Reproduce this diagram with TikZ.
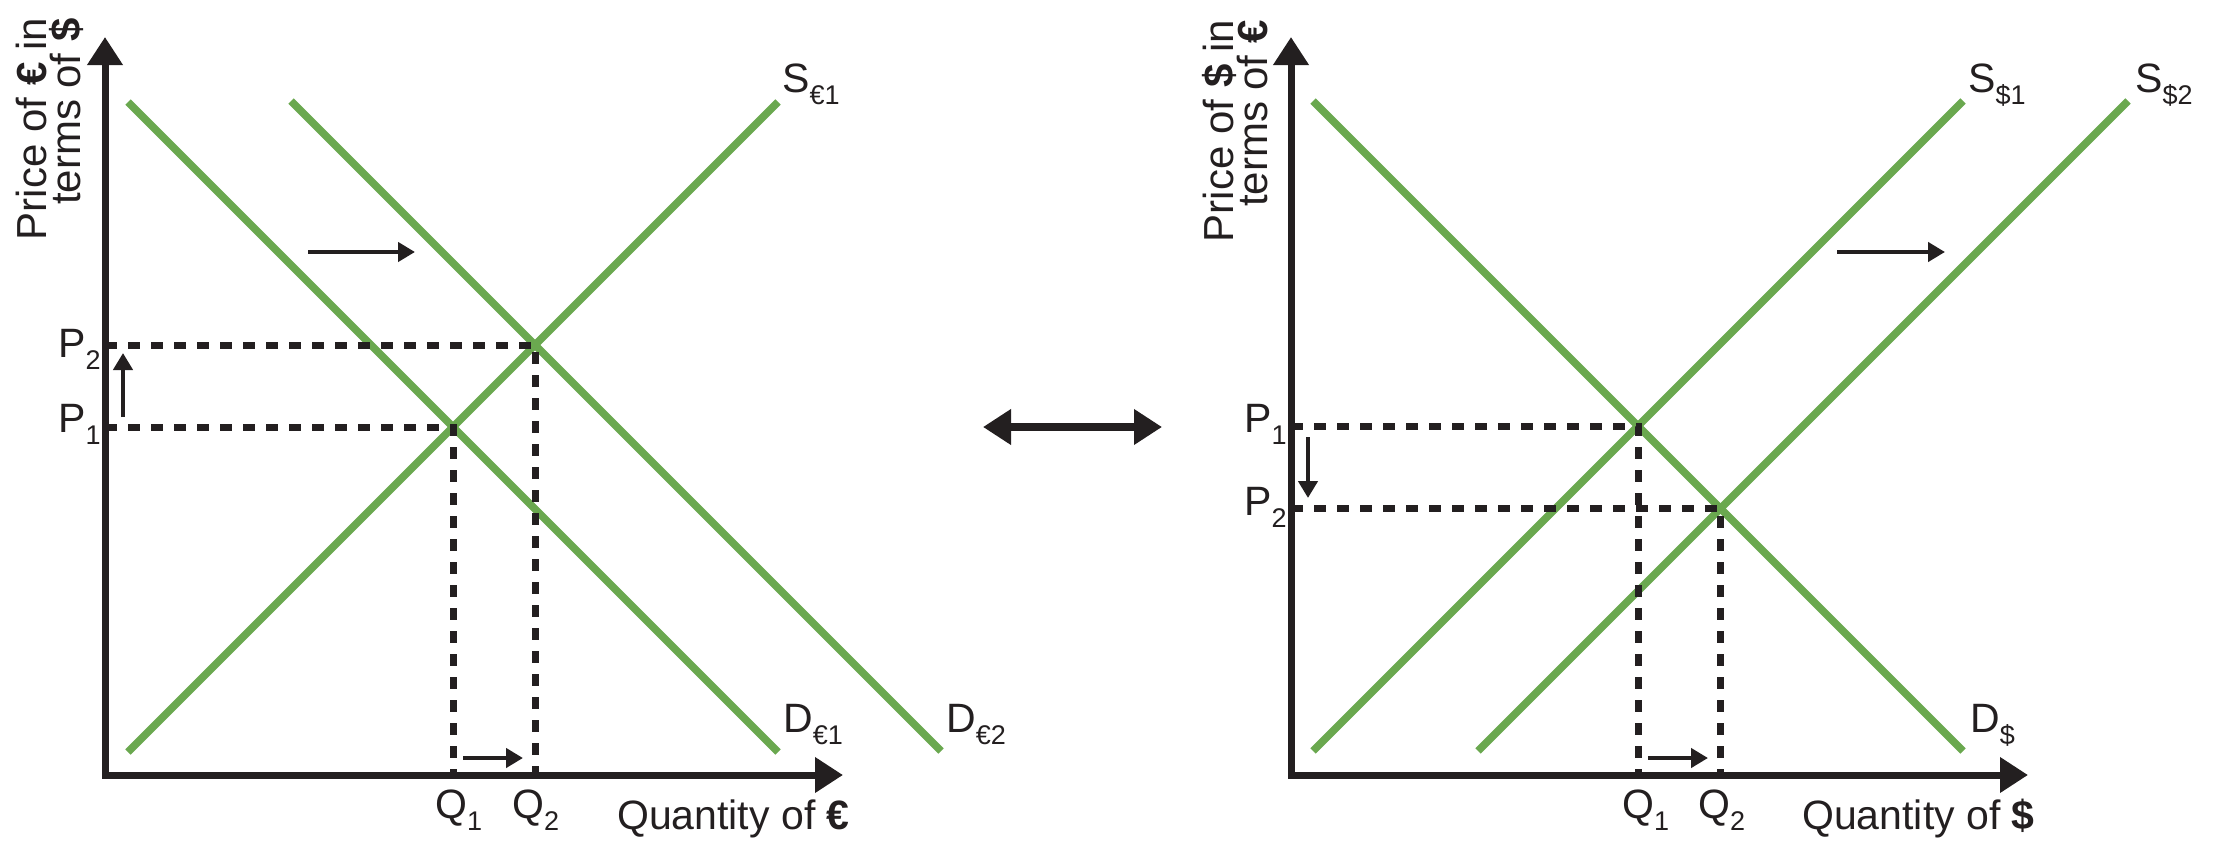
\documentclass[tikz,border=0pt]{standalone}
\usepackage{fontspec}
\setmainfont{Liberation Sans}
\usetikzlibrary{arrows.meta}
\definecolor{fxGreen}{HTML}{6AA84F}
\definecolor{fxInk}{HTML}{231F20}
\newcommand{\lowsub}[1]{\raisebox{-12pt}{\fontsize{27}{27}\selectfont #1}}

\begin{document}
\begin{tikzpicture}[x=1pt,y=-1pt,line join=miter,font=\fontsize{41}{34}\selectfont,text=fxInk]
\useasboundingbox (0,0) rectangle (2220,862);
\tikzset{axis/.style={draw=fxInk,line width=7pt,{Triangle[length=28pt,width=34pt]}-{Triangle[length=28pt,width=34pt]}},curve/.style={draw=fxGreen,line width=7.5pt},guide/.style={draw=fxInk,line width=7pt,dash pattern=on 12pt off 11pt},moveto/.style={draw=fxInk,line width=4.5pt,-{Triangle[length=17pt,width=19pt]}},link/.style={draw=fxInk,line width=8pt,{Triangle[length=28pt,width=34pt]}-{Triangle[length=28pt,width=34pt]}},lbl/.style={anchor=base west,inner sep=0pt},ylbl/.style={rotate=90,anchor=east,align=right,inner sep=0pt,font=\fontsize{42}{34}\selectfont}}
% euro market
\coordinate (eO) at (105,775); \coordinate (eY) at (105,37); \coordinate (eX) at (843,775);
\coordinate (eD1a) at (128,102); \coordinate (eD1b) at (778,752);
\coordinate (eD2a) at (291,101); \coordinate (eD2b) at (941,751);
\coordinate (eS1a) at (128,752); \coordinate (eS1b) at (778,102);
\coordinate (eE1) at (intersection of eD1a--eD1b and eS1a--eS1b);
\coordinate (eE2) at (intersection of eD2a--eD2b and eS1a--eS1b);
\draw[curve] (eD1a) -- (eD1b); \draw[curve] (eD2a) -- (eD2b); \draw[curve] (eS1a) -- (eS1b);
\draw[guide] (eO |- eE1) -- (eE1) -- (eE1 |- eO);
\draw[guide] (eO |- eE2) -- (eE2) -- (eE2 |- eO);
\draw[axis] (eY) -- (eO) -- (eX);
\coordinate (eSh1) at (308,252); \coordinate (eSh2) at (415,252);
\coordinate (eP1) at (123,417); \coordinate (eP2) at (123,353);
\coordinate (eQ1) at (463,758); \coordinate (eQ2) at (523,758);
\draw[moveto] (eSh1) -- (eSh2); \draw[moveto] (eP1) -- (eP2); \draw[moveto] (eQ1) -- (eQ2);
\node[lbl] (eSl) at (782,92) {S\lowsub{€1}};
\node[lbl] (eD1l) at (783,732) {D\lowsub{€1}};
\node[lbl] (eD2l) at (946,732) {D\lowsub{€2}};
\node[lbl] (eP2l) at (58,357) {P\lowsub{2}};
\node[lbl] (eP1l) at (58,432) {P\lowsub{1}};
\node[lbl] (eQ1l) at (435,818) {Q\lowsub{1}};
\node[lbl] (eQ2l) at (512,818) {Q\lowsub{2}};
\node[lbl] (eXl) at (617,829) {Quantity of \textbf{€}};
\node[ylbl] (eYl) at (50,18) {Price of \textbf{€} in\\terms of \textbf{\$}};
% link between the two markets
\coordinate (kL) at (983,427); \coordinate (kR) at (1162,427);
\draw[link] (kL) -- (kR);
% dollar market
\coordinate (dO) at (1291,775); \coordinate (dY) at (1291,37); \coordinate (dX) at (2028,775);
\coordinate (dDa) at (1313,101); \coordinate (dDb) at (1963,751);
\coordinate (dS1a) at (1313,751); \coordinate (dS1b) at (1963,101);
\coordinate (dS2a) at (1478,751); \coordinate (dS2b) at (2128,101);
\coordinate (dE1) at (intersection of dDa--dDb and dS1a--dS1b);
\coordinate (dE2) at (intersection of dDa--dDb and dS2a--dS2b);
\draw[curve] (dDa) -- (dDb); \draw[curve] (dS1a) -- (dS1b); \draw[curve] (dS2a) -- (dS2b);
\draw[guide] (dO |- dE1) -- (dE1) -- (dE1 |- dO);
\draw[guide] (dO |- dE2) -- (dE2) -- (dE2 |- dO);
\draw[axis] (dY) -- (dO) -- (dX);
\coordinate (dSh1) at (1837,252); \coordinate (dSh2) at (1945,252);
\coordinate (dP1) at (1308,437); \coordinate (dP2) at (1308,498);
\coordinate (dQ1) at (1648,758); \coordinate (dQ2) at (1708,758);
\draw[moveto] (dSh1) -- (dSh2); \draw[moveto] (dP1) -- (dP2); \draw[moveto] (dQ1) -- (dQ2);
\node[lbl] (dS1l) at (1968,92) {S\lowsub{\$1}};
\node[lbl] (dS2l) at (2135,92) {S\lowsub{\$2}};
\node[lbl] (dDl) at (1970,732) {D\lowsub{\$}};
\node[lbl] (dP1l) at (1244,432) {P\lowsub{1}};
\node[lbl] (dP2l) at (1244,515) {P\lowsub{2}};
\node[lbl] (dQ1l) at (1622,818) {Q\lowsub{1}};
\node[lbl] (dQ2l) at (1698,818) {Q\lowsub{2}};
\node[lbl] (dXl) at (1802,829) {Quantity of \textbf{\$}};
\node[ylbl] (dYl) at (1235,20) {Price of \textbf{\$} in\\terms of \textbf{€}};
\end{tikzpicture}
\end{document}
